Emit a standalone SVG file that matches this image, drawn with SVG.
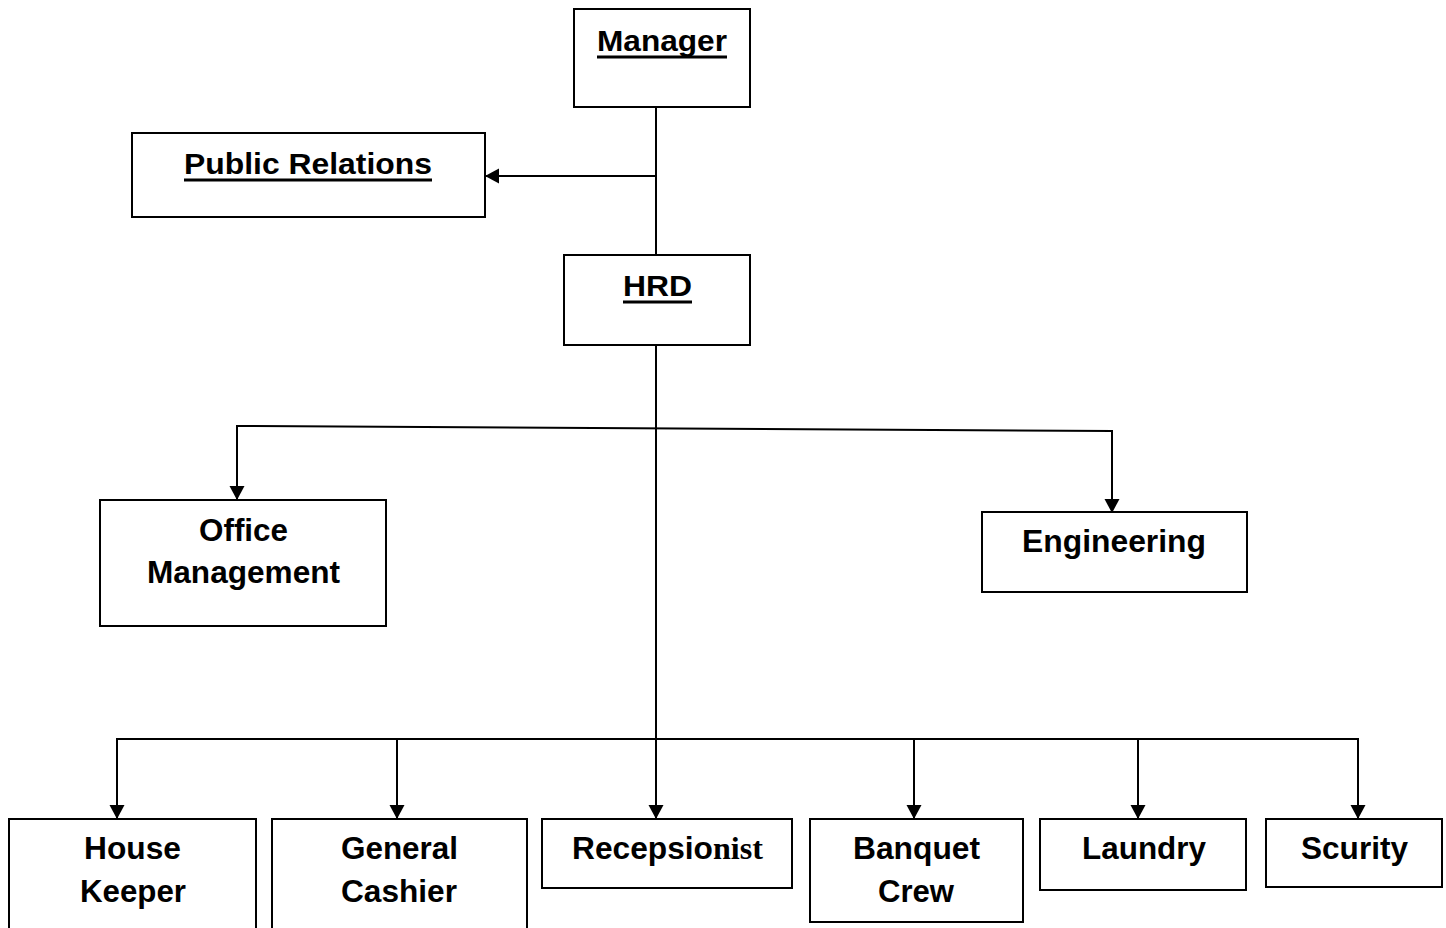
<svg xmlns="http://www.w3.org/2000/svg" width="1446" height="928" viewBox="0 0 1446 928">
<style>
.box{fill:#fff;stroke:#000;stroke-width:2}
.t{font-family:"Liberation Sans",Arial,sans-serif;font-weight:bold;font-size:31px;fill:#000}
.h{font-size:30px}
.ts{font-family:"Liberation Serif","Times New Roman",serif;font-weight:bold;font-size:31px}
.c{fill:none;stroke:#000;stroke-width:2}
.u{stroke:#000;stroke-width:3}
</style>
<defs>
<marker id="ah" markerUnits="userSpaceOnUse" markerWidth="16" markerHeight="16" refX="14" refY="7.5" orient="auto">
<path d="M0,0 L14,7.5 L0,15 z" fill="#000"/>
</marker>
</defs>
<rect width="1446" height="928" fill="#fff"/>
<g id="connectors">
<line class="c" x1="656" y1="107" x2="656" y2="255"/>
<line class="c" x1="656" y1="176" x2="485" y2="176" marker-end="url(#ah)"/>
<line class="c" x1="656" y1="345" x2="656" y2="819" marker-end="url(#ah)"/>
<polyline class="c" points="237,500 237,426 1112,431 1112,513"/>
<line class="c" x1="237" y1="440" x2="237" y2="500" marker-end="url(#ah)"/>
<line class="c" x1="1112" y1="450" x2="1112" y2="513" marker-end="url(#ah)"/>
<line class="c" x1="117" y1="739" x2="1358" y2="739"/>
<line class="c" x1="117" y1="738" x2="117" y2="819" marker-end="url(#ah)"/>
<line class="c" x1="397" y1="739" x2="397" y2="819" marker-end="url(#ah)"/>
<line class="c" x1="914" y1="739" x2="914" y2="819" marker-end="url(#ah)"/>
<line class="c" x1="1138" y1="739" x2="1138" y2="819" marker-end="url(#ah)"/>
<line class="c" x1="1358" y1="738" x2="1358" y2="819" marker-end="url(#ah)"/>
</g>
<g id="manager">
<rect class="box" x="574" y="9" width="176" height="98"/>
<text class="t h" x="597" y="51" textLength="130" lengthAdjust="spacingAndGlyphs">Manager</text>
<line class="u" x1="597" y1="57" x2="727" y2="57"/>
</g>
<g id="public-relations">
<rect class="box" x="132" y="133" width="353" height="84"/>
<text class="t h" x="184" y="174" textLength="248" lengthAdjust="spacingAndGlyphs">Public Relations</text>
<line class="u" x1="184" y1="180" x2="432" y2="180"/>
</g>
<g id="hrd">
<rect class="box" x="564" y="255" width="186" height="90"/>
<text class="t h" x="623" y="296" textLength="69" lengthAdjust="spacingAndGlyphs">HRD</text>
<line class="u" x1="623" y1="302" x2="692" y2="302"/>
</g>
<g id="office-management">
<rect class="box" x="100" y="500" width="286" height="126"/>
<text class="t" x="199" y="541" textLength="89" lengthAdjust="spacingAndGlyphs">Office</text>
<text class="t" x="147" y="583" textLength="193" lengthAdjust="spacingAndGlyphs">Management</text>
</g>
<g id="engineering">
<rect class="box" x="982" y="512" width="265" height="80"/>
<text class="t" x="1022" y="552" textLength="184" lengthAdjust="spacingAndGlyphs">Engineering</text>
</g>
<g id="house-keeper">
<rect class="box" x="9" y="819" width="247" height="120"/>
<text class="t" x="84" y="859" textLength="97" lengthAdjust="spacingAndGlyphs">House</text>
<text class="t" x="80" y="902" textLength="106" lengthAdjust="spacingAndGlyphs">Keeper</text>
</g>
<g id="general-cashier">
<rect class="box" x="272" y="819" width="255" height="120"/>
<text class="t" x="341" y="859" textLength="117" lengthAdjust="spacingAndGlyphs">General</text>
<text class="t" x="341" y="902" textLength="116" lengthAdjust="spacingAndGlyphs">Cashier</text>
</g>
<g id="recepsionist">
<rect class="box" x="542" y="819" width="250" height="69"/>
<text class="t" y="859"><tspan x="572" textLength="141" lengthAdjust="spacingAndGlyphs">Recepsio</tspan><tspan class="ts" x="713" textLength="50" lengthAdjust="spacingAndGlyphs">nist</tspan></text>
</g>
<g id="banquet-crew">
<rect class="box" x="810" y="819" width="213" height="103"/>
<text class="t" x="853" y="859" textLength="127" lengthAdjust="spacingAndGlyphs">Banquet</text>
<text class="t" x="878" y="902" textLength="76" lengthAdjust="spacingAndGlyphs">Crew</text>
</g>
<g id="laundry">
<rect class="box" x="1040" y="819" width="206" height="71"/>
<text class="t" x="1082" y="859" textLength="124" lengthAdjust="spacingAndGlyphs">Laundry</text>
</g>
<g id="scurity">
<rect class="box" x="1266" y="819" width="176" height="68"/>
<text class="t" x="1301" y="859" textLength="107" lengthAdjust="spacingAndGlyphs">Scurity</text>
</g>
</svg>
